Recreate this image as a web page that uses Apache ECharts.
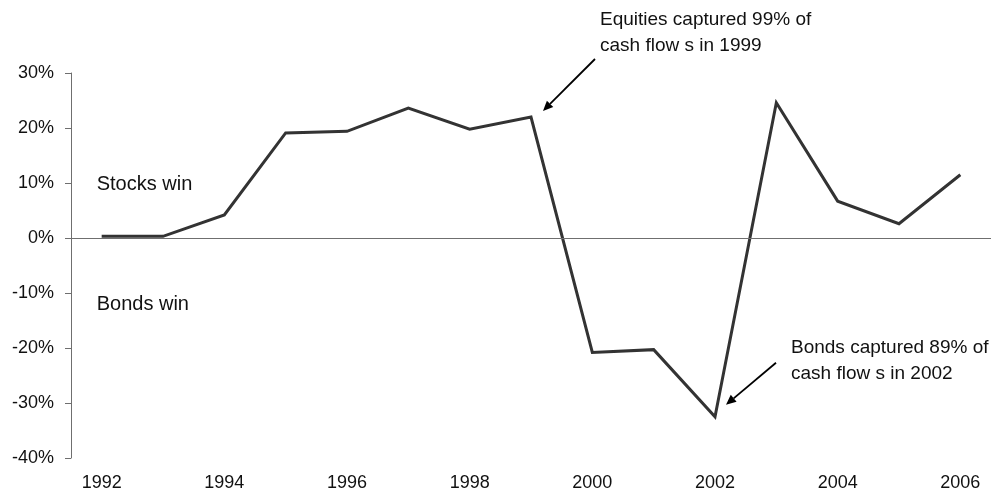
<!DOCTYPE html>
<html>
<head>
<meta charset="utf-8">
<script src="https://cdn.jsdelivr.net/npm/echarts@6/dist/echarts.min.js"></script>
<style>
  html, body { margin: 0; padding: 0; background: #fff; }
  #chart { width: 995px; height: 493px; }
</style>
</head>
<body>
<div id="chart"></div>
<script>
// Net share of fund cash flows: stocks minus bonds, by year (%)
const years = ['1992', '1993', '1994', '1995', '1996', '1997', '1998', '1999',
               '2000', '2001', '2002', '2003', '2004', '2005', '2006'];
const spread = [0.3, 0.3, 4.2, 19.1, 19.4, 23.6, 19.8, 22.0,
                -20.8, -20.3, -32.5, 24.6, 6.7, 2.6, 11.5];
const yTicks = [-40, -30, -20, -10, 0, 10, 20, 30];

const FONT = 'Liberation Sans, Arial, Helvetica, sans-serif';
const TEXT = '#111';

const chart = echarts.init(document.getElementById('chart'), null, { renderer: 'canvas' });

chart.setOption({
  animation: false,
  backgroundColor: '#fff',
  grid: { left: 71, right: 4, top: 73, bottom: 35, containLabel: false },
  xAxis: {
    type: 'category',
    data: years,
    boundaryGap: true,
    axisLine: { show: false, onZero: false },
    axisTick: { show: false },
    axisLabel: { interval: 1, margin: 16, color: TEXT, fontSize: 18, fontFamily: FONT }
  },
  yAxis: {
    type: 'value',
    min: yTicks[0],
    max: yTicks[yTicks.length - 1],
    interval: 10,
    splitLine: { show: false },
    axisLine: { show: true, lineStyle: { color: '#6f6f6f', width: 1 } },
    axisTick: { show: true, inside: false, length: 6, lineStyle: { color: '#6f6f6f', width: 1 } },
    axisLabel: { margin: 17, color: TEXT, fontSize: 18, fontFamily: FONT, formatter: v => v + '%' }
  },
  series: [{
    type: 'line',
    data: spread,
    symbol: 'none',
    lineStyle: { color: '#333333', width: 3, join: 'miter' },
    markLine: {
      silent: true,
      symbol: 'none',
      label: { show: false },
      lineStyle: { color: '#6f6f6f', width: 1, type: 'solid' },
      data: [{ yAxis: 0 }]
    },
    z: 3
  }]
});

// Annotations, anchored to the data points they describe
function arrow(from, to) {
  const dx = to[0] - from[0], dy = to[1] - from[1];
  const len = Math.sqrt(dx * dx + dy * dy);
  const ux = dx / len, uy = dy / len;
  const headL = 10, headW = 4.5;
  const bx = to[0] - ux * headL, by = to[1] - uy * headL;
  return [
    { type: 'line', shape: { x1: from[0], y1: from[1], x2: bx, y2: by },
      style: { stroke: '#000', lineWidth: 1.8 }, z: 10 },
    { type: 'polygon', shape: { points: [
        [to[0], to[1]],
        [bx - uy * headW, by + ux * headW],
        [bx + uy * headW, by - ux * headW]
      ] }, style: { fill: '#000' }, z: 10 }
  ];
}

function note(x, y, lines) {
  return {
    type: 'text', x: x, y: y, z: 10,
    style: { text: lines.join('\n'), font: '19px ' + FONT, fill: TEXT,
             lineHeight: 26, verticalAlign: 'top', align: 'left' }
  };
}

function label(x, y, txt) {
  return {
    type: 'text', x: x, y: y, z: 10,
    style: { text: txt, font: '20px ' + FONT, fill: TEXT, verticalAlign: 'middle', align: 'left' }
  };
}

const p1999 = chart.convertToPixel({ seriesIndex: 0 }, ['1999', spread[years.indexOf('1999')]]);
const p2002 = chart.convertToPixel({ seriesIndex: 0 }, ['2002', spread[years.indexOf('2002')]]);
const p1992 = chart.convertToPixel({ seriesIndex: 0 }, ['1992', 10]);
const pNeg = chart.convertToPixel({ seriesIndex: 0 }, ['1992', -11.5]);

const graphics = []
  .concat(arrow([p1999[0] + 64, p1999[1] - 58], [p1999[0] + 12, p1999[1] - 6]))
  .concat(arrow([p2002[0] + 61, p2002[1] - 54], [p2002[0] + 11, p2002[1] - 12]))
  .concat([
    note(p1999[0] + 69, 7, ['Equities captured 99% of', 'cash flow s in 1999']),
    note(p2002[0] + 76, 335, ['Bonds captured 89% of', 'cash flow s in 2002']),
    label(p1992[0] - 5, p1992[1] + 1, 'Stocks win'),
    label(pNeg[0] - 5, pNeg[1] + 3, 'Bonds win')
  ]);

chart.setOption({ graphic: graphics });
</script>
</body>
</html>
